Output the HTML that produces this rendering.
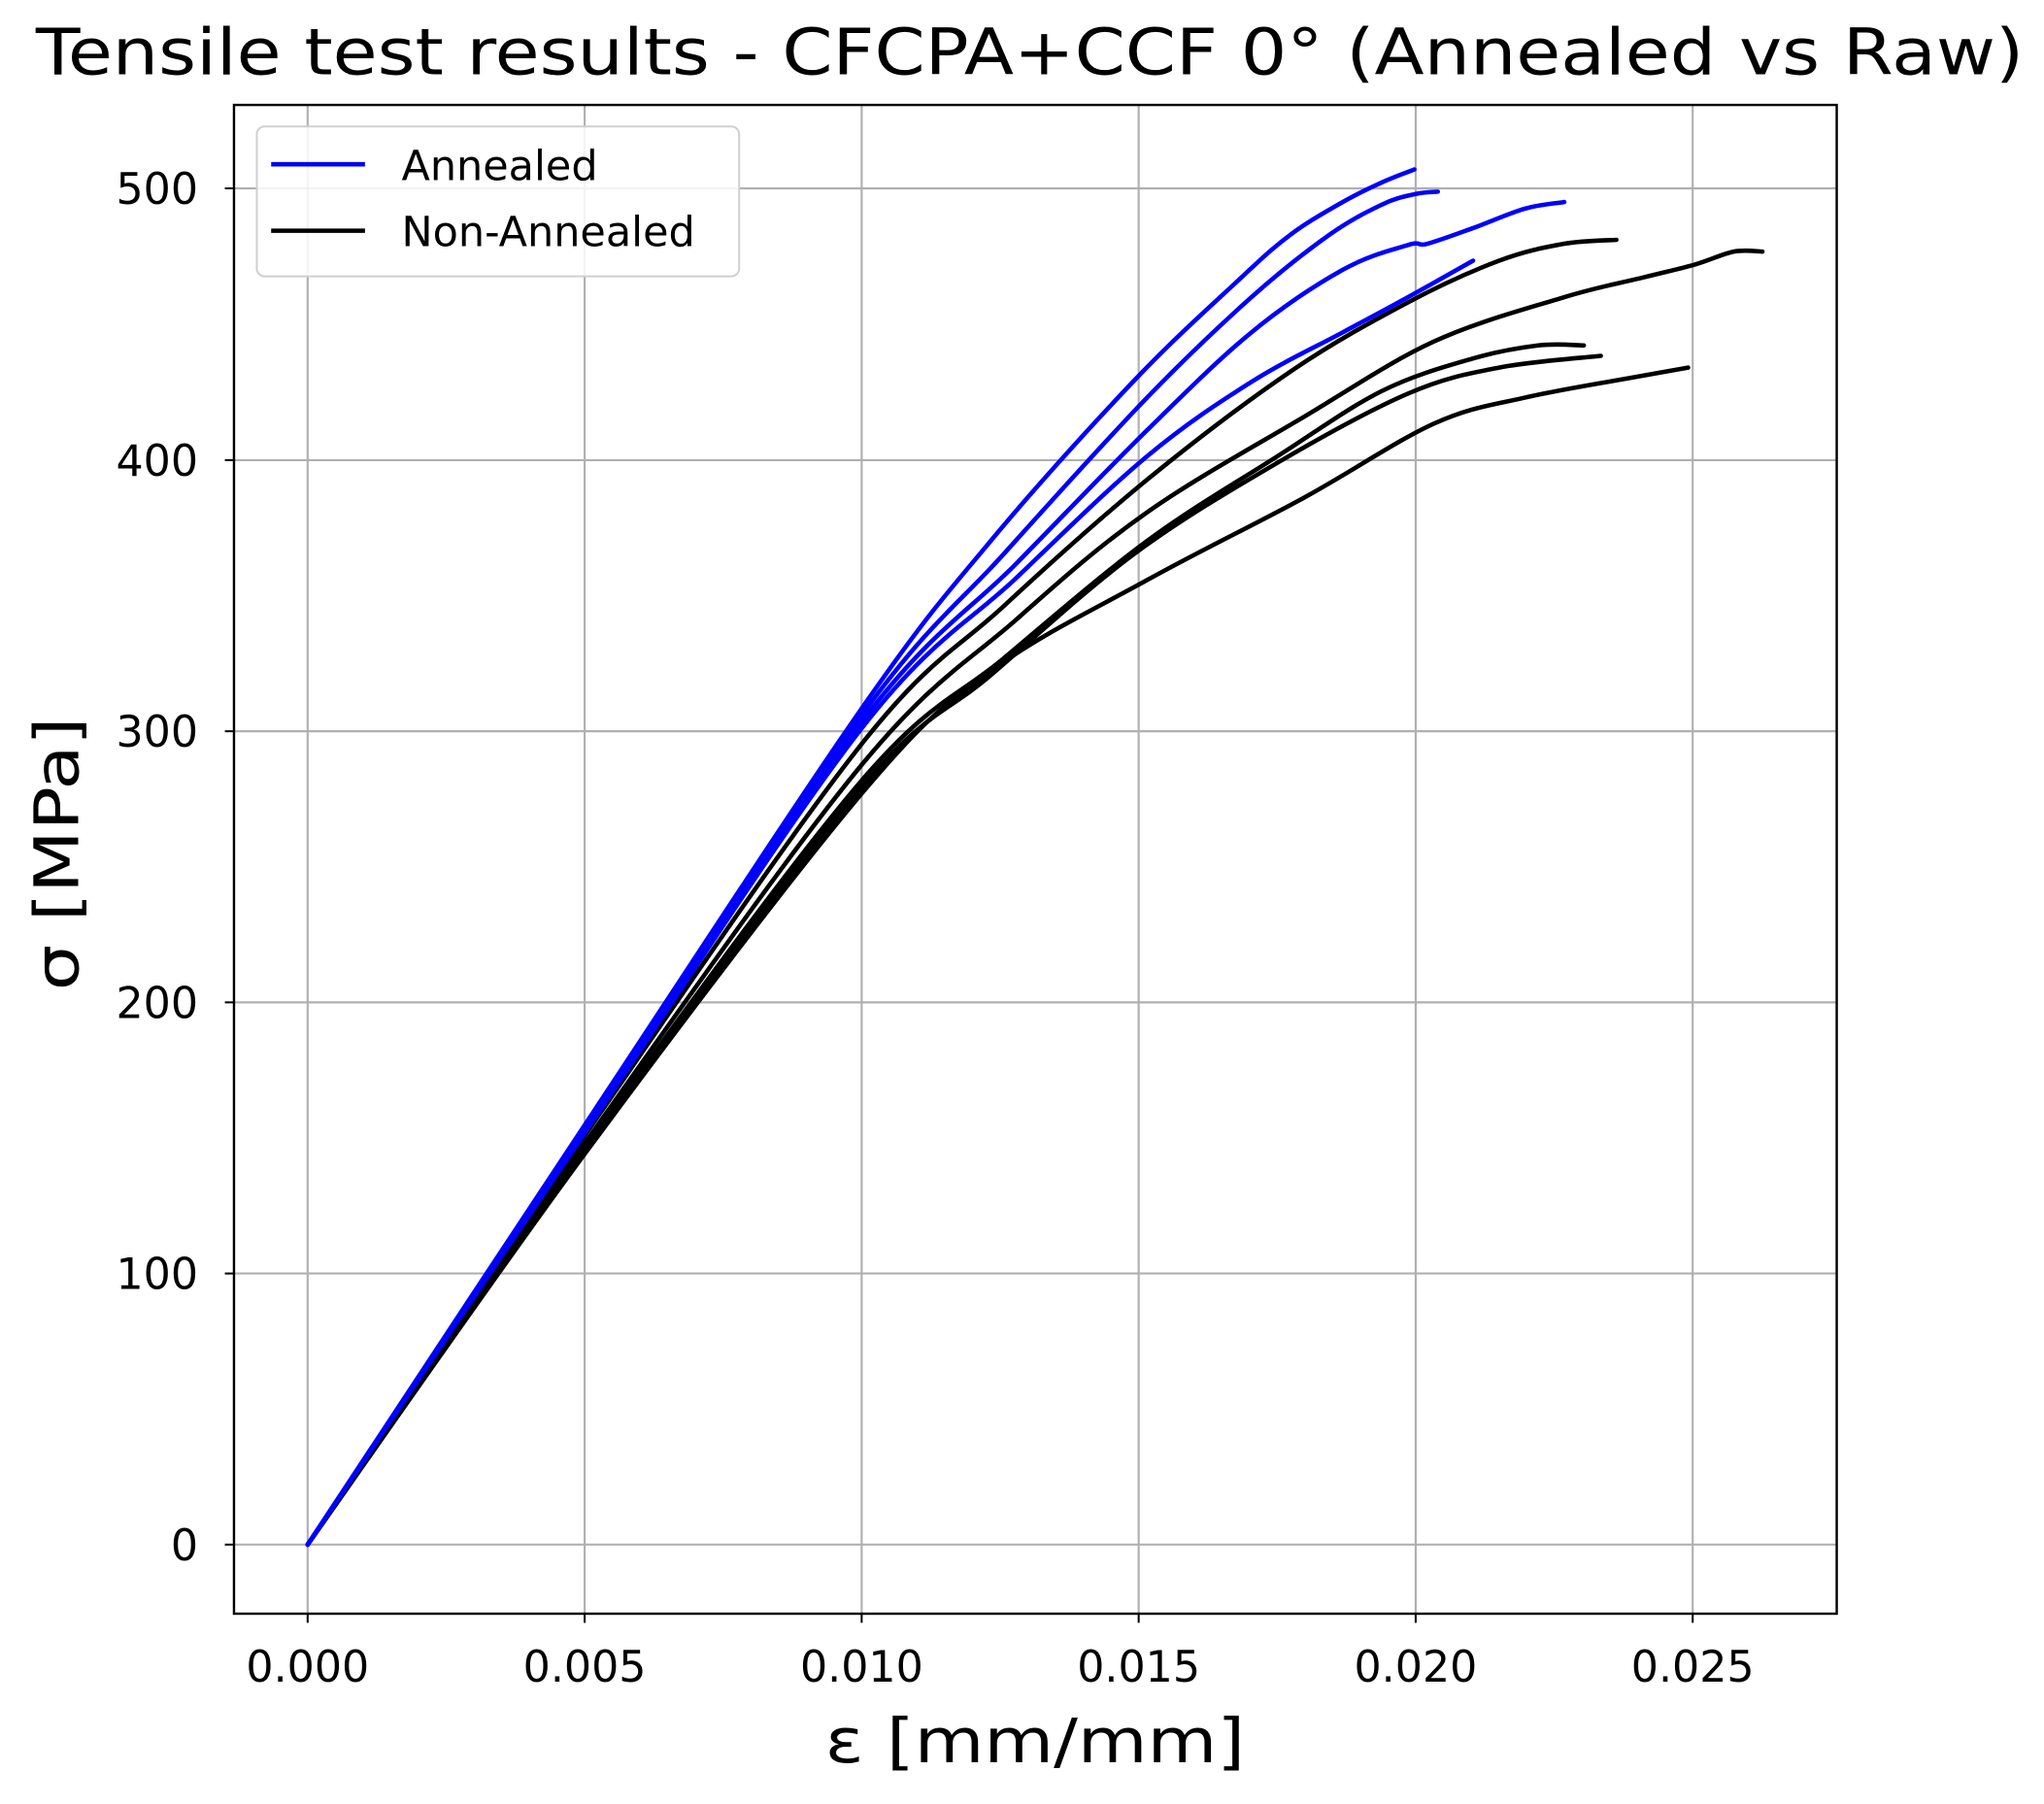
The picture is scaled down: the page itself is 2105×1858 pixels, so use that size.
<!DOCTYPE html>
<html><head><meta charset="utf-8"><style>
html,body{margin:0;padding:0;background:#fff;}
svg{display:block;}
text{font-family:"DejaVu Sans","Liberation Sans",sans-serif;fill:#000;}
</style></head><body>
<svg width="2105" height="1858" viewBox="0 0 1568 1384" xmlns="http://www.w3.org/2000/svg">
<rect width="1568" height="1384" fill="#fff"/>
<text x="790" y="57" font-size="49" text-anchor="middle" textLength="1525" lengthAdjust="spacingAndGlyphs">Tensile test results - CFCPA+CCF 0° (Annealed vs Raw)</text>
<g stroke="#b0b0b0" stroke-width="1.6">
<line x1="236" y1="80.5" x2="236" y2="1238"/>
<line x1="448.5" y1="80.5" x2="448.5" y2="1238"/>
<line x1="661" y1="80.5" x2="661" y2="1238"/>
<line x1="873.5" y1="80.5" x2="873.5" y2="1238"/>
<line x1="1086" y1="80.5" x2="1086" y2="1238"/>
<line x1="1298.5" y1="80.5" x2="1298.5" y2="1238"/>
<line x1="179.5" y1="1185" x2="1409" y2="1185"/>
<line x1="179.5" y1="977" x2="1409" y2="977"/>
<line x1="179.5" y1="769" x2="1409" y2="769"/>
<line x1="179.5" y1="561" x2="1409" y2="561"/>
<line x1="179.5" y1="353" x2="1409" y2="353"/>
<line x1="179.5" y1="144.5" x2="1409" y2="144.5"/>
</g>
<g id="curves" fill="none" stroke-width="3.4" stroke-linejoin="round" stroke-linecap="round">
<path stroke="#000" data-p="236,1185 448,872 660,572 770,465 880,368 990,285 1080,232 1150,200 1200,187 1240,184"/>
<path stroke="#000" data-p="236,1185 448,878 660,588 780,475 880,393 1000,320 1100,262 1200,228 1260,213 1300,203 1330,193 1352,193"/>
<path stroke="#000" data-p="236,1185 448,882 660,600 770,505 880,415 980,350 1060,300 1130,275 1180,265 1215,265"/>
<path stroke="#000" data-p="236,1185 448,884 660,605 760,518 870,425 980,355 1080,302 1150,282 1228,273"/>
<path stroke="#000" data-p="236,1185 448,886 660,610 760,515 880,445 1000,382 1100,325 1170,305 1250,290 1295,282"/>
<path stroke="#0000ff" data-p="236,1185 448,864 660,545 760,415 870,292 950,215 990,180 1030,155 1060,140 1085,130"/>
<path stroke="#0000ff" data-p="236,1185 448,866 660,550 770,425 880,305 960,228 1020,180 1060,157 1085,149 1103,147"/>
<path stroke="#0000ff" data-p="236,1185 448,868 660,555 780,432 880,330 960,255 1030,207 1080,188 1095,187 1130,175 1170,160 1200,155"/>
<path stroke="#0000ff" data-p="236,1185 448,870 660,560 780,443 880,350 960,293 1030,255 1080,228 1130,200"/>
</g>
<rect x="179.5" y="80.5" width="1229.5" height="1157.5" fill="none" stroke="#000" stroke-width="1.8"/>
<g stroke="#000" stroke-width="1.5">
<line x1="236" y1="1238" x2="236" y2="1245"/>
<line x1="448.5" y1="1238" x2="448.5" y2="1245"/>
<line x1="661" y1="1238" x2="661" y2="1245"/>
<line x1="873.5" y1="1238" x2="873.5" y2="1245"/>
<line x1="1086" y1="1238" x2="1086" y2="1245"/>
<line x1="1298.5" y1="1238" x2="1298.5" y2="1245"/>
<line x1="172.5" y1="1185" x2="179.5" y2="1185"/>
<line x1="172.5" y1="977" x2="179.5" y2="977"/>
<line x1="172.5" y1="769" x2="179.5" y2="769"/>
<line x1="172.5" y1="561" x2="179.5" y2="561"/>
<line x1="172.5" y1="353" x2="179.5" y2="353"/>
<line x1="172.5" y1="144.5" x2="179.5" y2="144.5"/>
</g>
<g font-size="33" text-anchor="middle">
<text x="236" y="1290">0.000</text>
<text x="448.5" y="1290">0.005</text>
<text x="661" y="1290">0.010</text>
<text x="873.5" y="1290">0.015</text>
<text x="1086" y="1290">0.020</text>
<text x="1298.5" y="1290">0.025</text>
</g>
<g font-size="33" text-anchor="end">
<text x="152" y="1197">0</text>
<text x="152" y="989">100</text>
<text x="152" y="781">200</text>
<text x="152" y="573">300</text>
<text x="152" y="365">400</text>
<text x="152" y="156.5">500</text>
</g>
<text x="794" y="1352" font-size="47" text-anchor="middle" textLength="322" lengthAdjust="spacingAndGlyphs">ε [mm/mm]</text>
<text transform="translate(60,655) rotate(-90)" font-size="47" text-anchor="middle" textLength="210" lengthAdjust="spacingAndGlyphs">σ [MPa]</text>
<rect x="197" y="97" width="370" height="115" rx="6" fill="#fff" fill-opacity="0.85" stroke="#d0d0d0" stroke-width="1.5"/>
<line x1="208" y1="126" x2="280" y2="126" stroke="#0000ff" stroke-width="3.4"/>
<line x1="208" y1="177" x2="280" y2="177" stroke="#000" stroke-width="3.4"/>
<text x="308" y="138" font-size="32">Annealed</text>
<text x="308" y="189" font-size="32">Non-Annealed</text>
</svg>
<script>
document.querySelectorAll('#curves path').forEach(function(el){
  var p=el.getAttribute('data-p').trim().split(/\s+/).map(function(s){return s.split(',').map(Number);});
  var d='M'+p[0][0]+','+p[0][1];
  for(var i=0;i<p.length-1;i++){
    var p0=p[i-1]||p[i],p1=p[i],p2=p[i+1],p3=p[i+2]||p2;
    var c1x=p1[0]+(p2[0]-p0[0])/6,c1y=p1[1]+(p2[1]-p0[1])/6;
    var c2x=p2[0]-(p3[0]-p1[0])/6,c2y=p2[1]-(p3[1]-p1[1])/6;
    d+=' C'+c1x.toFixed(1)+','+c1y.toFixed(1)+' '+c2x.toFixed(1)+','+c2y.toFixed(1)+' '+p2[0]+','+p2[1];
  }
  el.setAttribute('d',d);
  el.removeAttribute('data-p');
});
</script>
</body></html>
